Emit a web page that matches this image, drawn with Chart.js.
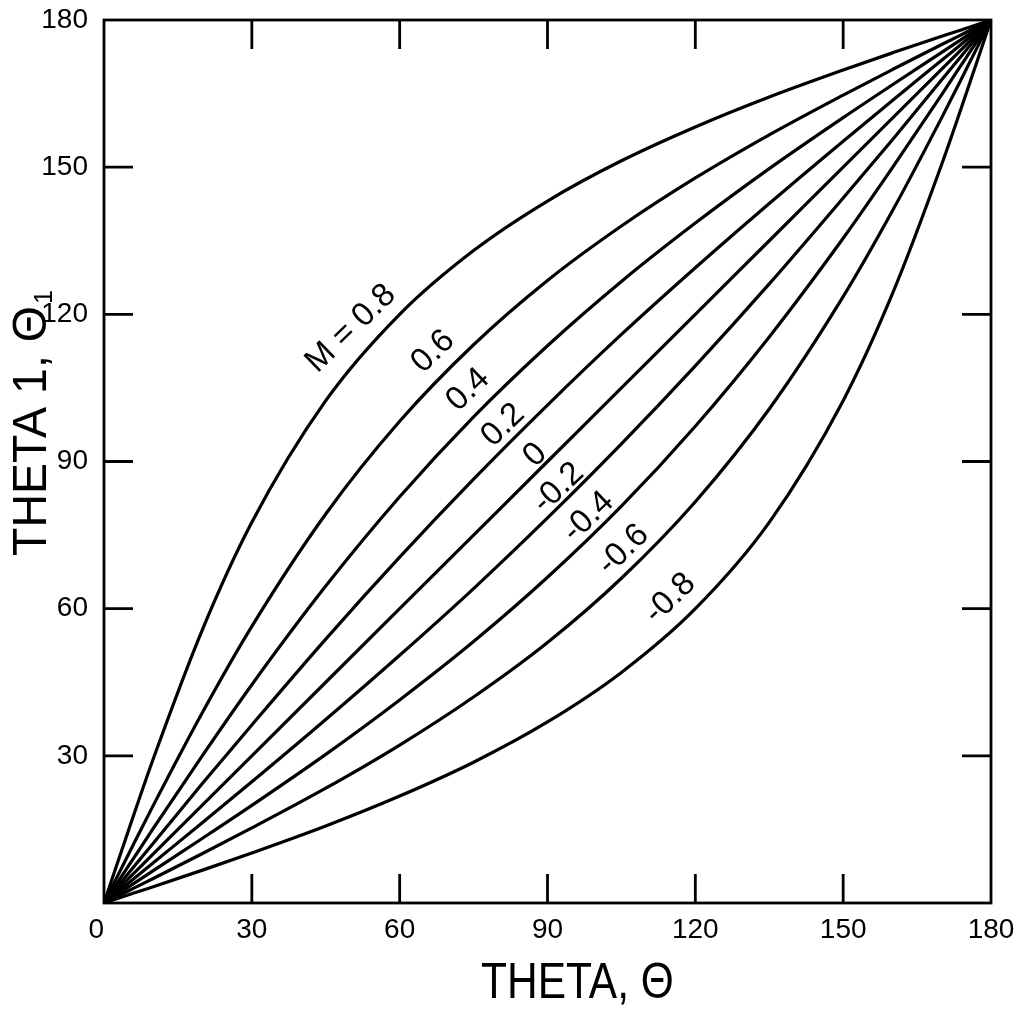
<!DOCTYPE html>
<html>

<head>
  <title>Theta 1 against Theta</title>
  <script src="https://cdn.jsdelivr.net/npm/chart.js"></script>
  <style>
    body { margin: 0; background: #fff; }
  </style>
</head>

<body>
  <canvas id="myChart" width="1023" height="1009"></canvas>
  <script>
    // values, theta in degrees
    var theta = [0, 5, 10, 20, 30, 45, 60, 75, 90, 105, 120, 135, 150, 160, 170, 175, 180];
    var m08  = [0, 14.9, 29.4, 55.8, 77.6, 102.4, 120.0, 133.0, 143.1, 151.3, 158.2, 164.3, 169.8, 173.3, 176.7, 178.3, 180];
    var m06  = [0, 10.0, 19.9, 38.9, 56.4, 79.3, 98.2, 113.8, 126.9, 138.0, 147.8, 156.6, 164.7, 169.9, 175.0, 177.5, 180];
    var m04  = [0, 7.6, 15.2, 30.1, 44.5, 64.6, 82.8, 99.1, 113.6, 126.7, 138.6, 149.7, 160.1, 166.8, 173.4, 176.7, 180];
    var m02  = [0, 6.1, 12.2, 24.4, 36.3, 53.8, 70.5, 86.4, 101.5, 115.9, 129.5, 142.6, 155.3, 163.6, 171.8, 175.9, 180];
    var m00  = [0, 5, 10, 20, 30, 45, 60, 75, 90, 105, 120, 135, 150, 160, 170, 175, 180];
    var mn02 = [0, 4.1, 8.2, 16.4, 24.7, 37.4, 50.5, 64.1, 78.5, 93.6, 109.5, 126.2, 143.7, 155.6, 167.8, 173.9, 180];
    var mn04 = [0, 3.3, 6.6, 13.2, 19.9, 30.3, 41.4, 53.3, 66.4, 80.9, 97.2, 115.4, 135.5, 149.9, 164.8, 172.4, 180];
    var mn06 = [0, 2.5, 5.0, 10.1, 15.3, 23.4, 32.2, 42.0, 53.1, 66.2, 81.8, 100.7, 123.6, 141.1, 160.1, 170.0, 180];
    var mn08 = [0, 1.7, 3.3, 6.7, 10.2, 15.7, 21.8, 28.7, 36.9, 47.0, 60.0, 77.6, 102.4, 124.2, 150.6, 165.1, 180];

    var series = [m08, m06, m04, m02, m00, mn02, mn04, mn06, mn08];
    var curveNames = ['M = 0.8', '0.6', '0.4', '0.2', '0', '-0.2', '-0.4', '-0.6', '-0.8'];
    // where each curve label sits, in axis units
    var labelX = [50.1, 66.8, 73.9, 81.0, 87.5, 92.2, 98.3, 105.4, 114.9];
    var labelY = [117.1, 112.4, 104.6, 97.4, 91.3, 84.6, 78.7, 72.0, 62.1];

    var tickValues = [0, 30, 60, 90, 120, 150, 180];
    var xTitle = 'THETA, \u0398';
    var yTitle = 'THETA 1, \u0398';
    var yTitleSub = '1';

    var tickLen = 29;

    var decor = {
      id: 'decor',
      afterDatasetsDraw(chart) {
        var ctx = chart.ctx, a = chart.chartArea;
        var xs = chart.scales.x, ys = chart.scales.y;
        ctx.save();
        ctx.strokeStyle = '#000';
        ctx.lineWidth = 2.8;
        ctx.strokeRect(a.left, a.top, a.right - a.left, a.bottom - a.top);

        // inward ticks on all four sides
        ctx.beginPath();
        tickValues.forEach(function (v) {
          if (v === 0 || v === 180) return;
          var px = xs.getPixelForValue(v), py = ys.getPixelForValue(v);
          ctx.moveTo(px, a.bottom); ctx.lineTo(px, a.bottom - tickLen);
          ctx.moveTo(px, a.top); ctx.lineTo(px, a.top + tickLen);
          ctx.moveTo(a.left, py); ctx.lineTo(a.left + tickLen, py);
          ctx.moveTo(a.right, py); ctx.lineTo(a.right - tickLen, py);
        });
        ctx.stroke();

        // curve labels
        ctx.fillStyle = '#000';
        ctx.font = '33px "Liberation Sans"';
        ctx.textAlign = 'center';
        ctx.textBaseline = 'middle';
        curveNames.forEach(function (t, i) {
          ctx.save();
          ctx.translate(xs.getPixelForValue(labelX[i]), ys.getPixelForValue(labelY[i]));
          ctx.rotate(-44 * Math.PI / 180);
          ctx.fillText(t, 0, 0);
          ctx.restore();
        });

        // axis titles, narrow lettering
        ctx.textAlign = 'left';
        ctx.textBaseline = 'alphabetic';
        ctx.font = '50px "Liberation Sans"';
        ctx.save();
        ctx.translate(481, 998);
        ctx.scale(0.85, 1);
        ctx.fillText(xTitle, 0, 0);
        ctx.restore();

        ctx.save();
        ctx.translate(46, 556);
        ctx.rotate(-Math.PI / 2);
        ctx.scale(0.97, 1);
        ctx.font = '48px "Liberation Sans"';
        ctx.fillText(yTitle, 0, 0);
        var w = ctx.measureText(yTitle).width;
        ctx.font = '26px "Liberation Sans"';
        ctx.fillText(yTitleSub, w + 2, 6);
        ctx.restore();

        ctx.restore();
      }
    };

    var ctx = document.getElementById('myChart').getContext('2d');
    var chart = new Chart(ctx, {
      type: 'line',
      data: {
        datasets: series.map(function (s, i) {
          return {
            label: curveNames[i],
            data: theta.map(function (t, j) { return { x: t, y: s[j] }; }),
            borderColor: '#000',
            borderWidth: 3.2,
            pointRadius: 0,
            fill: false,
            cubicInterpolationMode: 'monotone'
          };
        })
      },
      options: {
        responsive: false,
        animation: false,
        devicePixelRatio: 1,
        layout: { padding: { top: 20, right: 32, left: 0, bottom: 0 } },
        plugins: {
          legend: { display: false },
          tooltip: { enabled: false }
        },
        scales: {
          x: {
            type: 'linear',
            min: 0,
            max: 180,
            afterBuildTicks: function (scale) {
              scale.ticks = tickValues.map(function (v) { return { value: v }; });
            },
            afterFit: function (scale) { scale.height = 106; },
            grid: { display: false, drawTicks: false },
            border: { display: false },
            ticks: {
              color: '#000',
              padding: 0,
              maxRotation: 0,
              autoSkip: false,
              font: { family: 'Liberation Sans', size: 28, lineHeight: 1.96 },
              // the corner 0 sits a little left of the axis
              callback: function (v) { return v === 0 ? '0  ' : v; }
            }
          },
          y: {
            type: 'linear',
            min: 0,
            max: 180,
            afterBuildTicks: function (scale) {
              scale.ticks = tickValues.map(function (v) { return { value: v }; });
            },
            afterFit: function (scale) { scale.width = 104; },
            grid: { display: false, drawTicks: false },
            border: { display: false },
            ticks: {
              color: '#000',
              padding: 16,
              autoSkip: false,
              font: { family: 'Liberation Sans', size: 28, lineHeight: 0.2 },
              callback: function (v) { return v === 0 ? '' : v; }
            }
          }
        }
      },
      plugins: [decor]
    });
  </script>
</body>

</html>
